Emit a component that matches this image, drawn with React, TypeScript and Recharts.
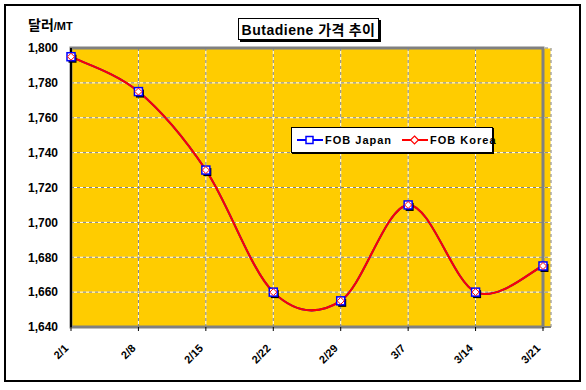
import {
  CartesianGrid,
  Line,
  LineChart,
  ReferenceArea,
  XAxis,
  YAxis,
} from "recharts";

const dates = ["2/1", "2/8", "2/15", "2/22", "2/29", "3/7", "3/14", "3/21"];
const fobJapan = [1795, 1775, 1730, 1660, 1655, 1710, 1660, 1675];
const fobKorea = [1795, 1775, 1730, 1660, 1655, 1710, 1660, 1675];
const yTicks = [1640, 1660, 1680, 1700, 1720, 1740, 1760, 1780, 1800];

const data = dates.map((d, i) => ({
  date: d,
  japan: fobJapan[i],
  korea: fobKorea[i],
}));

const FONT = "'Liberation Sans', Arial, sans-serif";

// Excel-style smoothed line (Catmull-Rom -> cubic bezier)
function excelSmooth(context: any) {
  let pts: number[][] = [];
  return {
    areaStart() {},
    areaEnd() {},
    lineStart() {
      pts = [];
    },
    point(x: number, y: number) {
      pts.push([+x, +y]);
    },
    lineEnd() {
      if (!pts.length) return;
      context.moveTo(pts[0][0], pts[0][1]);
      for (let i = 0; i < pts.length - 1; i++) {
        const p0 = pts[i - 1] || pts[i];
        const p1 = pts[i];
        const p2 = pts[i + 1];
        const p3 = pts[i + 2] || p2;
        context.bezierCurveTo(
          p1[0] + (p2[0] - p0[0]) / 6,
          p1[1] + (p2[1] - p0[1]) / 6,
          p2[0] - (p3[0] - p1[0]) / 6,
          p2[1] - (p3[1] - p1[1]) / 6,
          p2[0],
          p2[1]
        );
      }
    },
  };
}

function SquareDot(props: any) {
  const { cx, cy } = props;
  if (cx == null || cy == null) return null;
  return (
    <g>
      <rect x={cx - 2.5} y={cy - 2} width={8} height={8} fill="#000" />
      <rect
        x={cx - 4}
        y={cy - 4}
        width={8}
        height={8}
        fill="#fff"
        stroke="#0000ff"
        strokeWidth={1.5}
      />
    </g>
  );
}

function DiamondDot(props: any) {
  const { cx, cy } = props;
  if (cx == null || cy == null) return null;
  return (
    <path
      d={`M${cx},${cy - 3.5} L${cx + 3.5},${cy} L${cx},${cy + 3.5} L${cx - 3.5},${cy} Z`}
      fill="#fff"
      stroke="#ff0000"
      strokeWidth={1}
    />
  );
}

function DateTick(props: any) {
  const { x, y, payload } = props;
  const px = x - 2;
  const py = y + 16;
  return (
    <text
      x={px}
      y={py}
      transform={`rotate(-45, ${px}, ${py})`}
      textAnchor="end"
      fontFamily={FONT}
      fontWeight="bold"
      fontSize={11}
      fill="#000"
    >
      {payload.value}
    </text>
  );
}

function LegendBox() {
  const item = (color: string, label: string, square: boolean) => (
    <span style={{ display: "inline-flex", alignItems: "center" }}>
      <svg width={26} height={10}>
        <line x1={0} y1={5} x2={26} y2={5} stroke={color} strokeWidth={2} />
        {square ? (
          <rect x={9} y={1.5} width={7} height={7} fill="#fff" stroke={color} strokeWidth={1.5} />
        ) : (
          <path d="M12.5,1 L16.5,5 L12.5,9 L8.5,5 Z" fill="#fff" stroke={color} strokeWidth={1.2} />
        )}
      </svg>
      <span style={{ marginLeft: 2, letterSpacing: 1 }}>{label}</span>
    </span>
  );
  return (
    <div
      style={{
        position: "absolute",
        left: 291,
        top: 127,
        boxSizing: "border-box",
        background: "#fff",
        border: "1px solid #000",
        boxShadow: "1px 1px 0 #000",
        padding: "0 4px 0 5px",
        fontFamily: FONT,
        fontWeight: "bold",
        fontSize: 11,
        display: "flex",
        gap: 10,
        whiteSpace: "nowrap",
        width: 202,
        height: 26,
        alignItems: "center",
        zIndex: 2,
      }}
    >
      {item("#0000ff", "FOB Japan", true)}
      {item("#ff0000", "FOB Korea", false)}
    </div>
  );
}

export default function App() {
  return (
    <div
      style={{
        position: "absolute",
        left: 0,
        top: 0,
        width: 586,
        height: 390,
        background: "#fff",
      }}
    >
      <div
        style={{
          position: "absolute",
          left: 4,
          top: 4,
          width: 577,
          height: 378,
          border: "2px solid #000",
          boxSizing: "border-box",
        }}
      />
      <div
        style={{
          position: "absolute",
          left: 28,
          top: 14,
          fontFamily: FONT,
          fontWeight: "bold",
          color: "#000",
          whiteSpace: "nowrap",
        }}
      >
        <span style={{ fontSize: 14, fontFamily: "'Noto Sans CJK KR', sans-serif" }}>달러</span>
        <span style={{ fontSize: 11 }}>/MT</span>
      </div>
      <div
        style={{
          position: "absolute",
          left: 238,
          top: 18,
          width: 141,
          height: 22,
          boxSizing: "border-box",
          border: "1px solid #000",
          boxShadow: "2px 2px 0 #000",
          background: "#fff",
          fontFamily: FONT,
          fontWeight: "bold",
          fontSize: 14,
          lineHeight: "20px",
          textAlign: "center",
          letterSpacing: 0.5,
          whiteSpace: "nowrap",
          zIndex: 2,
        }}
      >
        Butadiene{" "}
        <span style={{ fontFamily: "'Noto Sans CJK KR', sans-serif" }}>가격 추이</span>
      </div>
      <div style={{ position: "absolute", left: 0, top: 0 }}>
        <LineChart
          width={586}
          height={390}
          data={data}
          margin={{ top: 48, right: 35, bottom: 33, left: 0 }}
        >
          <CartesianGrid fill="#ffcc00" stroke="#ffffff" strokeWidth={1} />
          <CartesianGrid stroke="#808080" strokeDasharray="3 3" strokeWidth={1} />
          <ReferenceArea
            y1={1640}
            y2={1800}
            fill="none"
            stroke="#808080"
            strokeWidth={3}
            ifOverflow="visible"
          />
          <XAxis
            dataKey="date"
            height={30}
            padding={{ left: 0, right: 8 }}
            interval={0}
            axisLine={{ stroke: "#808080", strokeWidth: 2 }}
            tickLine={{ stroke: "#000", strokeWidth: 1 }}
            tickSize={4}
            tick={<DateTick />}
          />
          <YAxis
            domain={[1640, 1800]}
            ticks={yTicks}
            interval={0}
            width={71}
            tickSize={0}
            tickMargin={13}
            axisLine={{ stroke: "#000", strokeWidth: 2 }}
            tickLine={false}
            tickFormatter={(v: number) => v.toLocaleString("en-US")}
            tick={{ fill: "#000", fontSize: 12, fontWeight: "bold", fontFamily: FONT }}
          />
          <Line
            dataKey="japan"
            name="FOB Japan"
            type={excelSmooth as any}
            stroke="#0000ff"
            strokeWidth={2}
            dot={<SquareDot />}
            activeDot={false}
            isAnimationActive={false}
          />
          <Line
            dataKey="korea"
            name="FOB Korea"
            type={excelSmooth as any}
            stroke="#ff0000"
            strokeWidth={2}
            dot={<DiamondDot />}
            activeDot={false}
            isAnimationActive={false}
          />
        </LineChart>
      </div>
      <LegendBox />
    </div>
  );
}
